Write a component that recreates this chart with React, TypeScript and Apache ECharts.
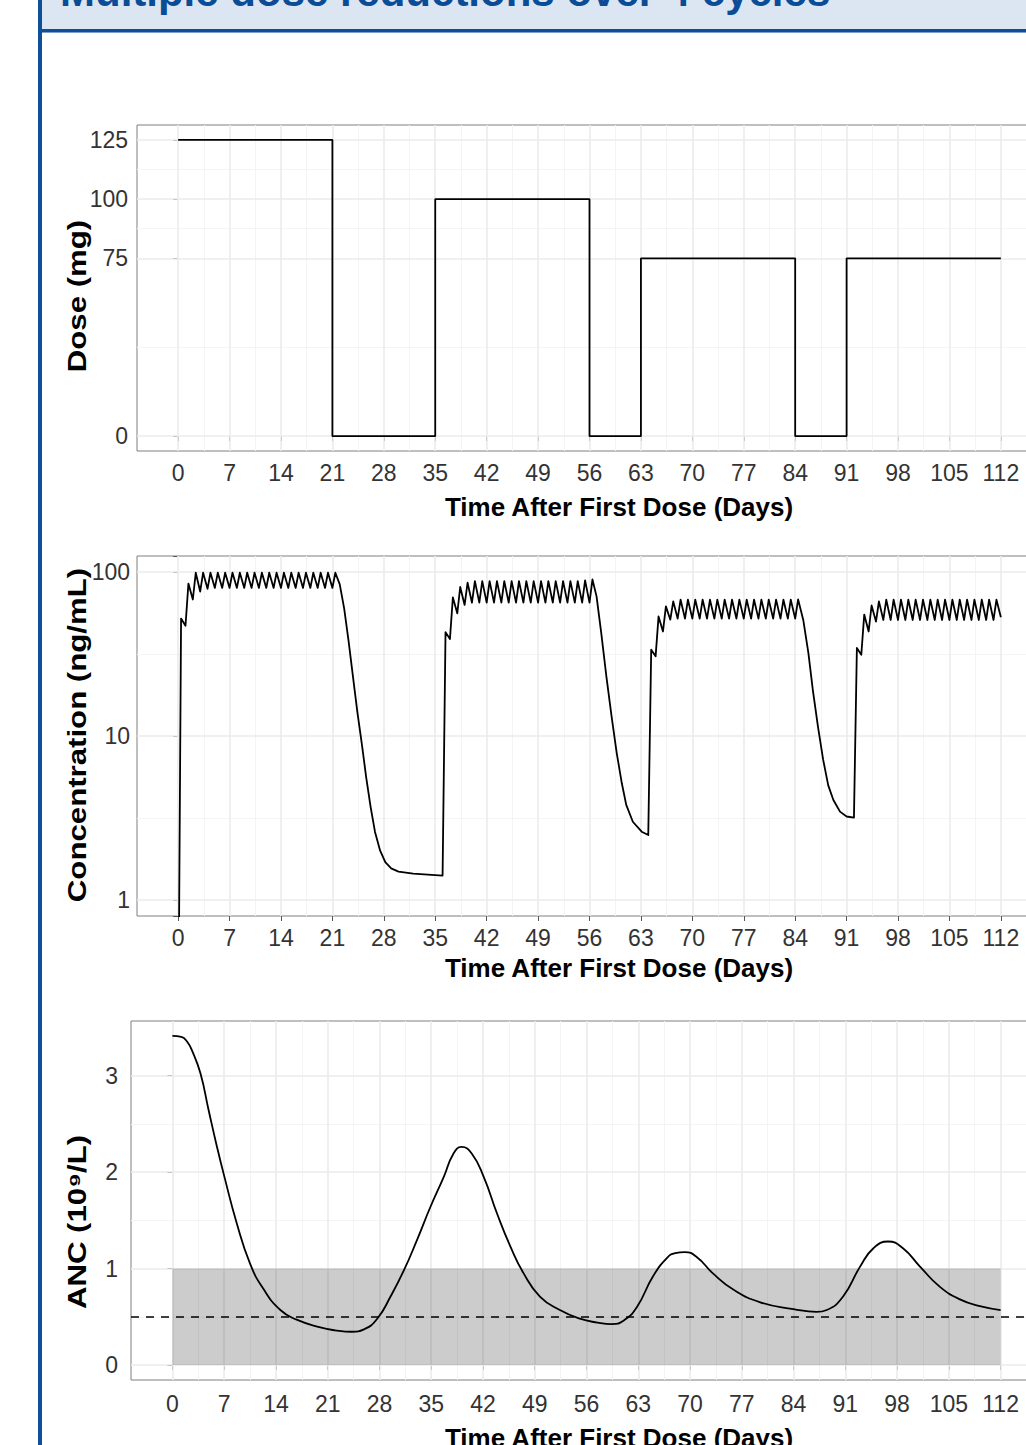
import React, { useEffect, useRef } from "react";
import * as echarts from "echarts";

// ---------- axis ticks ----------
const xTickDays = [0, 7, 14, 21, 28, 35, 42, 49, 56, 63, 70, 77, 84, 91, 98, 105, 112];
const xMinorDays = [3.5, 10.5, 17.5, 24.5, 31.5, 38.5, 45.5, 52.5, 59.5, 66.5, 73.5, 80.5, 87.5, 94.5, 101.5, 108.5];

const doseTicks = [0, 75, 100, 125];
const doseMinor = [37.5, 87.5, 112.5];
const concTicks = [1, 10, 100];
const concMinor = [3.162, 31.62];
const ancTicks = [0, 1, 2, 3];
const ancMinor = [0.5, 1.5, 2.5];

// ---------- dose (mg) ----------
const doseDays = [0, 21, 35, 56, 63, 84, 91, 112];
const doseValues = [125, 0, 100, 0, 75, 0, 75, 75];

// ---------- concentration (ng/mL) ----------
const PEAK_OFFSET = 0.4;
const c1DoseDays = [0, 1, 2, 3, 4, 5, 6, 7, 8, 9, 10, 11, 12, 13, 14, 15, 16, 17, 18, 19, 20, 21];
const c1Trough = [0.1, 47, 68, 76, 79, 80, 80, 80, 80, 80, 80, 80, 80, 80, 80, 80, 80, 80, 80, 80, 80, 80];
const c1Peak = [52, 85, 99, 99, 99, 99, 99, 99, 99, 99, 99, 99, 99, 99, 99, 99, 99, 99, 99, 99, 99, 99];
const wash1Days = [22.0, 22.6, 23.2, 23.8, 24.4, 25.0, 25.6, 26.2, 26.8, 27.5, 28.2, 29.0, 30.0, 32.0, 34.0, 36.0];
const wash1Values = [84, 60, 38, 23, 14, 9.0, 5.6, 3.7, 2.6, 2.0, 1.7, 1.56, 1.49, 1.45, 1.43, 1.41];

const c2DoseDays = [36, 37, 38, 39, 40, 41, 42, 43, 44, 45, 46, 47, 48, 49, 50, 51, 52, 53, 54, 55, 56];
const c2Trough = [1.41, 39, 56, 63, 65, 65, 65, 65, 65, 65, 65, 65, 65, 65, 65, 65, 65, 65, 65, 65, 65];
const c2Peak = [43, 70, 81, 86, 88, 88, 88, 88, 88, 88, 88, 88, 88, 88, 88, 88, 88, 88, 88, 89, 90];
const wash2Days = [56.96, 57.6, 58.3, 59.0, 59.7, 60.4, 61.0, 61.9, 63.1, 64.0];
const wash2Values = [71, 42.4, 23, 13.2, 7.9, 5.15, 3.8, 3.0, 2.61, 2.49];

const c3DoseDays = [64, 65, 66, 67, 68, 69, 70, 71, 72, 73, 74, 75, 76, 77, 78, 79, 80, 81, 82, 83, 84];
const c3Trough = [2.49, 30.6, 43.4, 51.2, 52, 52, 52, 52, 52, 52, 52, 52, 52, 52, 52, 52, 52, 52, 52, 52, 52];
const c3Peak = [33.6, 53.6, 61.7, 66.2, 67.8, 67.8, 67.8, 67.8, 67.8, 67.8, 67.8, 67.8, 67.8, 67.8, 67.8, 67.8, 67.8, 67.8, 67.8, 67.8, 68];
const wash3Days = [85.1, 85.8, 86.4, 87.1, 87.8, 88.5, 89.2, 90.1, 91.0, 92.0];
const wash3Values = [51, 32, 19.1, 11.4, 7.2, 5.0, 4.07, 3.46, 3.23, 3.18];

const c4DoseDays = [92, 93, 94, 95, 96, 97, 98, 99, 100, 101, 102, 103, 104, 105, 106, 107, 108, 109, 110, 111];
const c4Trough = [3.18, 31.3, 43.4, 49.9, 51, 51, 51, 51, 51, 51, 51, 51, 51, 51, 51, 51, 51, 51, 51, 51];
const c4Peak = [34.4, 55, 62.5, 66.2, 67.8, 67.8, 67.8, 67.8, 67.8, 67.8, 67.8, 67.8, 67.8, 67.8, 67.8, 67.8, 67.8, 67.8, 67.8, 67.8];
const concEndDay = 112;
const concEndValue = 53;

// ---------- ANC (10^9/L) ----------
const ancDays = [0, 1.2, 2, 2.7, 3.8, 4.9, 6, 7, 8.7, 10.5, 12.3, 14.6, 16.8, 20, 22, 24.3, 25.9, 27.7, 29.5, 31.3, 33.1, 34.9, 36.7, 38, 39.1, 40.5, 42.1, 43.9, 45.7, 47.5, 49.7, 52.4, 55.1, 57.5, 59.4, 61.0, 62.8, 65.0, 66.9, 68.0, 69.3, 70.9, 73.1, 75.9, 79.5, 84, 87.1, 88.5, 90.7, 93, 94.8, 96.8, 98.8, 101.1, 103.8, 106.5, 109.2, 112];
const ancValues = [3.41, 3.40, 3.35, 3.25, 3.02, 2.64, 2.27, 1.96, 1.47, 1.05, 0.79, 0.57, 0.47, 0.39, 0.36, 0.345, 0.37, 0.48, 0.71, 0.98, 1.30, 1.64, 1.95, 2.19, 2.26, 2.19, 1.95, 1.57, 1.23, 0.95, 0.71, 0.57, 0.48, 0.44, 0.425, 0.46, 0.6, 0.92, 1.11, 1.16, 1.17, 1.12, 0.95, 0.78, 0.65, 0.58, 0.55, 0.57, 0.71, 1.02, 1.21, 1.28, 1.21, 1.02, 0.81, 0.68, 0.61, 0.57];
const bandFrom = [0, 0];
const bandTo = [112, 1];
const ancThreshold = 0.5;

// ---------- texts ----------
const headerTitle = "Multiple dose reductions over 4 cycles";
const xTitle = "Time After First Dose (Days)";
const yTitles = ["Dose (mg)", "Concentration (ng/mL)", "ANC (10⁹/L)"];

const FONT = '"Liberation Sans", Arial, Helvetica, sans-serif';

function buildConc(): number[][] {
  const pts: number[][] = [];
  const addCycle = (days: number[], tr: number[], pk: number[]) => {
    days.forEach((d, i) => {
      pts.push([d, tr[i]]);
      pts.push([d + PEAK_OFFSET, pk[i]]);
    });
  };
  const addWash = (days: number[], vals: number[]) => {
    days.forEach((d, i) => pts.push([d, vals[i]]));
  };
  addCycle(c1DoseDays, c1Trough, c1Peak);
  addWash(wash1Days, wash1Values);
  addCycle(c2DoseDays, c2Trough, c2Peak);
  addWash(wash2Days, wash2Values);
  addCycle(c3DoseDays, c3Trough, c3Peak);
  addWash(wash3Days, wash3Values);
  addCycle(c4DoseDays, c4Trough, c4Peak);
  pts.push([concEndDay, concEndValue]);
  return pts;
}

const majorStyle = { color: "#EBEBEB", width: 1.6, type: "solid" as const };
const minorStyle = { color: "#F4F4F4", width: 1, type: "solid" as const };

function gridLineSeries(i: number, yMajor: number[], yMinor: number[]) {
  return {
    type: "line",
    xAxisIndex: i,
    yAxisIndex: i,
    data: [],
    z: 1,
    silent: true,
    markLine: {
      z: 1,
      silent: true,
      symbol: ["none", "none"],
      label: { show: false },
      emphasis: { disabled: true },
      animation: false,
      data: [
        ...xMinorDays.map((v) => ({ xAxis: v, lineStyle: minorStyle })),
        ...yMinor.map((v) => ({ yAxis: v, lineStyle: minorStyle })),
        ...xTickDays.map((v) => ({ xAxis: v, lineStyle: majorStyle })),
        ...yMajor.map((v) => ({ yAxis: v, lineStyle: majorStyle })),
      ],
    },
  };
}

function buildOption(): any {
  const grids = [
    { left: 137, top: 125, width: 905, height: 326 },
    { left: 137, top: 556, width: 905, height: 360 },
    { left: 131, top: 1021, width: 911, height: 359 },
  ];
  const labelMargins = [10, 10, 12];
  const xAxes = grids.map((_, i) => ({
    type: "value",
    gridIndex: i,
    min: -5.6,
    max: 117.6,
    axisLine: { show: false },
    splitLine: { show: false },
    axisTick: { show: true, length: 5, lineStyle: { color: "#555", width: 1 }, customValues: xTickDays },
    axisLabel: { customValues: xTickDays, fontSize: 23, color: "#333", fontFamily: FONT, margin: labelMargins[i] },
  }));
  const yCommon = {
    axisLine: { show: false },
    splitLine: { show: false },
    axisTick: { show: true, length: 5, lineStyle: { color: "#555", width: 1 } },
  };
  const yAxes = [
    {
      ...yCommon,
      type: "value",
      gridIndex: 0,
      min: -6.25,
      max: 131.25,
      axisTick: { ...yCommon.axisTick, customValues: doseTicks },
      axisLabel: { customValues: doseTicks, fontSize: 23, color: "#333", fontFamily: FONT, margin: 9 },
    },
    {
      ...yCommon,
      type: "log",
      logBase: 10,
      gridIndex: 1,
      min: 0.799,
      max: 125.2,
      axisLabel: {
        fontSize: 23,
        color: "#333",
        fontFamily: FONT,
        margin: 7,
        formatter: (v: number) => (concTicks.some((t) => Math.abs(t - v) < 1e-6 * t) ? String(Math.round(v)) : ""),
      },
    },
    {
      ...yCommon,
      type: "value",
      gridIndex: 2,
      min: -0.155,
      max: 3.565,
      axisTick: { ...yCommon.axisTick, customValues: ancTicks },
      axisLabel: { customValues: ancTicks, fontSize: 23, color: "#333", fontFamily: FONT, margin: 13 },
    },
  ];

  const lineStyle = { color: "#000", width: 1.8 };

  const series: any[] = [
    gridLineSeries(0, doseTicks, doseMinor),
    gridLineSeries(1, concTicks, concMinor),
    gridLineSeries(2, ancTicks, ancMinor),
    {
      type: "line",
      xAxisIndex: 2,
      yAxisIndex: 2,
      data: [],
      z: 2,
      silent: true,
      markArea: {
        z: 2,
        silent: true,
        itemStyle: { color: "rgba(0,0,0,0.2)" },
        label: { show: false },
        emphasis: { disabled: true },
        data: [[{ coord: bandFrom }, { coord: bandTo }]],
      },
      markLine: {
        z: 4,
        silent: true,
        symbol: ["none", "none"],
        label: { show: false },
        emphasis: { disabled: true },
        lineStyle: { color: "#000", width: 1.5, type: [8, 7] },
        data: [{ yAxis: ancThreshold }],
      },
    },
    {
      type: "line",
      xAxisIndex: 0,
      yAxisIndex: 0,
      step: "end",
      data: doseDays.map((d, i) => [d, doseValues[i]]),
      showSymbol: false,
      symbol: "none",
      lineStyle,
      z: 3,
      silent: true,
    },
    {
      type: "line",
      xAxisIndex: 1,
      yAxisIndex: 1,
      data: buildConc(),
      showSymbol: false,
      symbol: "none",
      lineStyle: { ...lineStyle, join: "round" },
      clip: true,
      z: 3,
      silent: true,
    },
    {
      type: "line",
      xAxisIndex: 2,
      yAxisIndex: 2,
      data: ancDays.map((d, i) => [d, ancValues[i]]),
      smooth: 0.5,
      showSymbol: false,
      symbol: "none",
      lineStyle,
      z: 3,
      silent: true,
    },
  ];

  const yTitleCenters = [
    [77, 296],
    [77, 735],
    [77, 1222],
  ];
  const xTitleCenters = [
    [619, 507],
    [619, 968],
    [619, 1438],
  ];

  const graphic: any[] = [
    { type: "rect", shape: { x: 42, y: 0, width: 1060, height: 29 }, style: { fill: "#DCE6F2" }, z: 10 },
    { type: "rect", shape: { x: 42, y: 29, width: 1060, height: 3 }, style: { fill: "#0F4E98" }, z: 10 },
    { type: "rect", shape: { x: 42, y: 32, width: 1060, height: 1 }, style: { fill: "#7FA0CC" }, z: 10 },
    { type: "rect", shape: { x: 38, y: 0, width: 4, height: 1445 }, style: { fill: "#0F4E98" }, z: 10 },
    {
      type: "text",
      x: 60,
      y: -9,
      z: 11,
      style: {
        text: headerTitle,
        fill: "#0B4C97",
        font: `bold 42px ${FONT}`,
        align: "left",
        verticalAlign: "middle",
      },
    },
    ...yTitles.map((t, i) => ({
      type: "text",
      x: yTitleCenters[i][0],
      y: yTitleCenters[i][1],
      rotation: Math.PI / 2,
      scaleX: 1.2,
      z: 11,
      style: { text: t, fill: "#000", font: `bold 26px ${FONT}`, align: "center", verticalAlign: "middle" },
    })),
    ...xTitleCenters.map((c) => ({
      type: "text",
      x: c[0],
      y: c[1],
      z: 11,
      style: { text: xTitle, fill: "#000", font: `bold 26px ${FONT}`, align: "center", verticalAlign: "middle" },
    })),
  ];

  return {
    animation: false,
    backgroundColor: "#fff",
    textStyle: { fontFamily: FONT },
    grid: grids.map((g) => ({ ...g, show: true, borderColor: "#7f7f7f", borderWidth: 1, backgroundColor: "transparent" })),
    xAxis: xAxes,
    yAxis: yAxes,
    series,
    graphic,
  };
}

export default function App() {
  const ref = useRef<HTMLDivElement>(null);
  useEffect(() => {
    if (!ref.current) return;
    const chart = echarts.init(ref.current, undefined, { renderer: "svg" });
    chart.setOption(buildOption());
    return () => chart.dispose();
  }, []);
  return (
    <div style={{ position: "fixed", left: 0, top: 0, width: 1026, height: 1445, overflow: "hidden", background: "#fff" }}>
      <div ref={ref} style={{ width: 1100, height: 1445 }} />
    </div>
  );
}
